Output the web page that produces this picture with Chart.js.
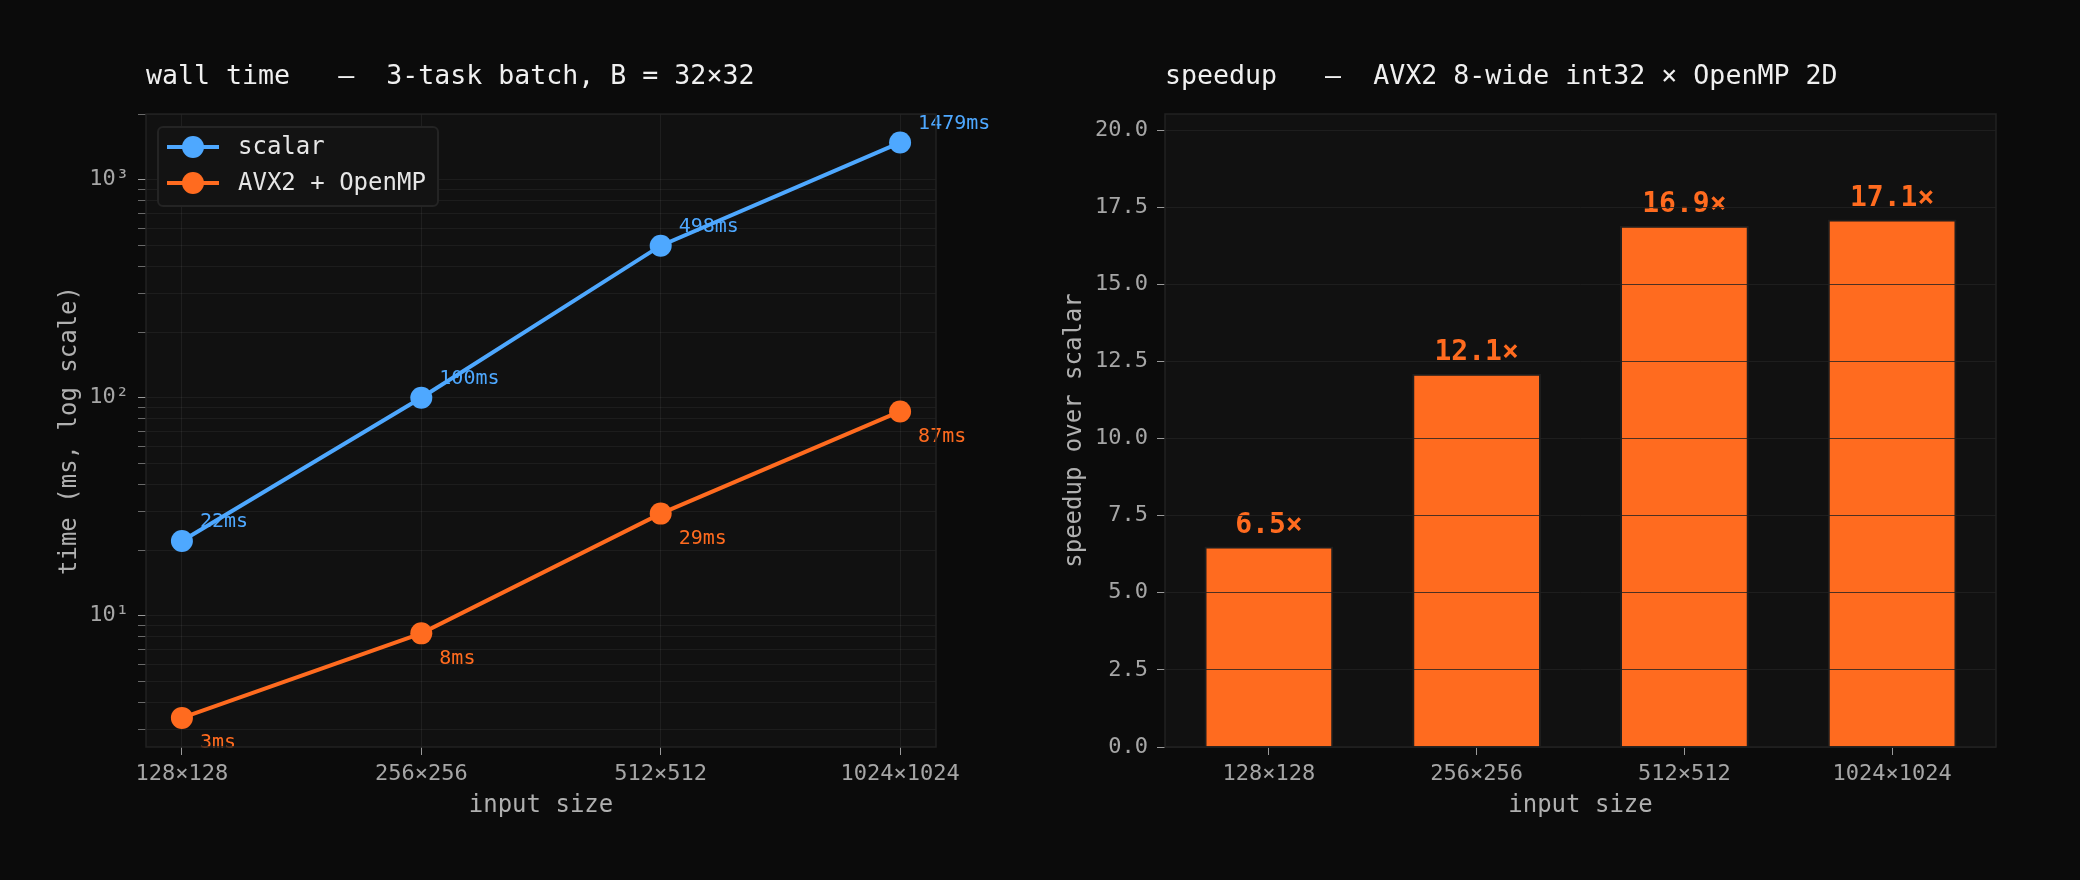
<!DOCTYPE html>
<html>
<head>
<meta charset="utf-8">
<script src="https://cdn.jsdelivr.net/npm/chart.js@4.4.1/dist/chart.umd.min.js"></script>
<style>
  html, body { margin: 0; padding: 0; background: #0b0b0b; }
  body { width: 2080px; height: 880px; position: relative; overflow: hidden; }
  canvas { position: absolute; top: 0; }
  #timeChart { left: 0; }
  #speedChart { left: 1040px; }
</style>
</head>
<body>
<canvas id="timeChart" width="1040" height="880"></canvas>
<canvas id="speedChart" width="1040" height="880"></canvas>
<script>
// data
const sizes = ['128×128', '256×256', '512×512', '1024×1024'];
const scalarMs = [22, 100, 498, 1479];
const avxMs = [3.4, 8.3, 29.4, 86.5];
const speedup = [6.5, 12.1, 16.9, 17.1];
const timeMin = 2.5;
const timeMax = 2000;
const speedMax = 20.52;

const BLUE = '#4ea8ff';
const ORANGE = '#ff6b1f';
const MONO = "'DejaVu Sans Mono', monospace";

Chart.defaults.font.family = MONO;
Chart.defaults.color = '#a6a6a6';

// plot background, frame and title, like matplotlib axes
const frame = {
    id: 'frame',
    beforeDraw(chart, args, opts) {
        const { ctx, chartArea: a } = chart;
        ctx.save();
        ctx.fillStyle = '#111111';
        ctx.fillRect(a.left, a.top, a.right - a.left, a.bottom - a.top);
        ctx.restore();
    },
    afterDraw(chart, args, opts) {
        const { ctx, chartArea: a } = chart;
        ctx.save();
        ctx.strokeStyle = '#222222';
        ctx.lineWidth = 1.5;
        ctx.strokeRect(a.left, a.top, a.right - a.left, a.bottom - a.top);
        ctx.fillStyle = '#f0f0f0';
        ctx.font = '26.6px ' + MONO;
        ctx.textBaseline = 'middle';
        ctx.textAlign = 'left';
        ctx.fillText(opts.text, a.left, 77);
        ctx.restore();
    }
};

// value labels next to each point
const pointLabels = {
    id: 'pointLabels',
    afterDatasetsDraw(chart) {
        const { ctx } = chart;
        ctx.save();
        ctx.font = '20px ' + MONO;
        ctx.textAlign = 'left';
        ctx.textBaseline = 'middle';
        chart.data.datasets.forEach((ds, di) => {
            const meta = chart.getDatasetMeta(di);
            const dy = di === 0 ? -19 : 25;
            ctx.fillStyle = ds.borderColor;
            meta.data.forEach((pt, i) => {
                ctx.fillText(Math.round(ds.data[i].y) + 'ms', pt.x + 18, pt.y + dy);
            });
        });
        ctx.restore();
    }
};

// legend box in the upper left of the plot
const boxLegend = {
    id: 'boxLegend',
    afterDatasetsDraw(chart) {
        const { ctx, chartArea: a } = chart;
        const x = a.left + 12, y = a.top + 13, w = 280, h = 79;
        ctx.save();
        ctx.fillStyle = '#131313';
        ctx.strokeStyle = '#242424';
        ctx.lineWidth = 2;
        ctx.beginPath();
        ctx.roundRect(x, y, w, h, 5);
        ctx.fill();
        ctx.stroke();
        ctx.font = '24px ' + MONO;
        ctx.textBaseline = 'middle';
        ctx.textAlign = 'left';
        chart.data.datasets.forEach((ds, i) => {
            const cy = y + 20 + i * 36;
            ctx.strokeStyle = ds.borderColor;
            ctx.lineWidth = 4;
            ctx.beginPath();
            ctx.moveTo(x + 9, cy);
            ctx.lineTo(x + 61, cy);
            ctx.stroke();
            ctx.fillStyle = ds.borderColor;
            ctx.beginPath();
            ctx.arc(x + 35, cy, 11, 0, Math.PI * 2);
            ctx.fill();
            ctx.fillStyle = '#e6e6e6';
            ctx.fillText(ds.label, x + 80, cy + 1);
        });
        ctx.restore();
    }
};

// speedup labels above the bars
const barLabels = {
    id: 'barLabels',
    afterDatasetsDraw(chart) {
        const { ctx } = chart;
        const meta = chart.getDatasetMeta(0);
        ctx.save();
        ctx.font = 'bold 28px ' + MONO;
        ctx.fillStyle = ORANGE;
        ctx.textAlign = 'center';
        ctx.textBaseline = 'middle';
        meta.data.forEach((bar, i) => {
            ctx.fillText(speedup[i].toFixed(1) + '×', bar.x, bar.y - 21);
        });
        ctx.restore();
    }
};

const supers = { 1: '¹', 2: '²', 3: '³' };

// Wall time chart (log scale)
new Chart(document.getElementById('timeChart'), {
    type: 'line',
    data: {
        datasets: [
            {
                label: 'scalar',
                data: scalarMs.map((v, i) => ({ x: i, y: v })),
                borderColor: BLUE,
                backgroundColor: BLUE,
                borderWidth: 4,
                pointRadius: 11,
                pointBorderWidth: 0,
                pointHoverRadius: 11
            },
            {
                label: 'AVX2 + OpenMP',
                data: avxMs.map((v, i) => ({ x: i, y: v })),
                borderColor: ORANGE,
                backgroundColor: ORANGE,
                borderWidth: 4,
                pointRadius: 11,
                pointBorderWidth: 0,
                pointHoverRadius: 11
            }
        ]
    },
    options: {
        responsive: false,
        animation: false,
        layout: { padding: { left: 55, top: 114, right: 104, bottom: 50 } },
        plugins: {
            legend: { display: false },
            tooltip: { enabled: false },
            frame: { text: 'wall time   —  3-task batch, B = 32×32' }
        },
        scales: {
            x: {
                type: 'linear',
                min: -0.15,
                max: 3.15,
                afterBuildTicks: s => { s.ticks = sizes.map((_, i) => ({ value: i })); },
                afterFit: s => { s.height = 83; },
                ticks: {
                    callback: v => sizes[v],
                    font: { size: 22 },
                    padding: 6,
                    maxRotation: 0
                },
                grid: { color: 'rgba(255,255,255,0.06)', tickColor: '#9a9a9a', tickLength: 8 },
                border: { display: false },
                title: {
                    display: true,
                    text: 'input size',
                    font: { size: 24 },
                    color: '#b0b0b0',
                    padding: { top: 0, bottom: 10 }
                }
            },
            y: {
                type: 'logarithmic',
                min: timeMin,
                max: timeMax,
                afterBuildTicks: s => {
                    const t = [];
                    for (let e = 0; e <= 3; e++) {
                        for (let m = 1; m <= 9; m++) {
                            const v = m * Math.pow(10, e);
                            if (v >= timeMin && v <= timeMax) t.push({ value: v, major: m === 1 });
                        }
                    }
                    s.ticks = t;
                },
                afterFit: s => { s.width = 91; },
                ticks: {
                    autoSkip: false,
                    callback: v => {
                        const e = Math.round(Math.log10(v));
                        return Math.abs(v - Math.pow(10, e)) < 1e-9 ? '10' + supers[e] : '';
                    },
                    font: { size: 22 },
                    padding: 9
                },
                grid: {
                    color: 'rgba(255,255,255,0.05)',
                    tickColor: ctx => ctx.tick && ctx.tick.major ? '#9a9a9a' : '#6a6a6a',
                    tickLength: 8
                },
                border: { display: false },
                title: {
                    display: true,
                    text: 'time (ms, log scale)',
                    font: { size: 24 },
                    color: '#b0b0b0',
                    padding: { top: 0, bottom: 0 }
                }
            }
        }
    },
    plugins: [frame, pointLabels, boxLegend]
});

// Speedup chart (bars)
new Chart(document.getElementById('speedChart'), {
    type: 'bar',
    data: {
        labels: sizes,
        datasets: [{
            label: 'speedup',
            data: speedup,
            backgroundColor: ORANGE,
            borderColor: '#1e1e1e',
            borderWidth: 2,
            barPercentage: 0.62,
            categoryPercentage: 1
        }]
    },
    options: {
        responsive: false,
        animation: false,
        layout: { padding: { left: 20, top: 114, right: 84, bottom: 50 } },
        plugins: {
            legend: { display: false },
            tooltip: { enabled: false },
            frame: { text: 'speedup   —  AVX2 8-wide int32 × OpenMP 2D' }
        },
        scales: {
            x: {
                afterFit: s => { s.height = 83; },
                ticks: { font: { size: 22 }, padding: 6, maxRotation: 0 },
                grid: { offset: false, drawOnChartArea: false, tickColor: '#9a9a9a', tickLength: 8 },
                border: { display: false },
                title: {
                    display: true,
                    text: 'input size',
                    font: { size: 24 },
                    color: '#b0b0b0',
                    padding: { top: 0, bottom: 10 }
                }
            },
            y: {
                min: 0,
                max: speedMax,
                afterBuildTicks: s => {
                    const t = [];
                    for (let v = 0; v <= 20; v += 2.5) t.push({ value: v });
                    s.ticks = t;
                },
                afterFit: s => { s.width = 105; },
                ticks: {
                    callback: v => v.toFixed(1),
                    font: { size: 22 },
                    padding: 9
                },
                grid: { z: 1, color: 'rgba(34,34,34,0.8)', tickColor: '#9a9a9a', tickLength: 8 },
                border: { display: false },
                title: {
                    display: true,
                    text: 'speedup over scalar',
                    font: { size: 24 },
                    color: '#b0b0b0',
                    padding: { top: 0, bottom: 0 }
                }
            }
        }
    },
    plugins: [frame, barLabels]
});
</script>
</body>
</html>
